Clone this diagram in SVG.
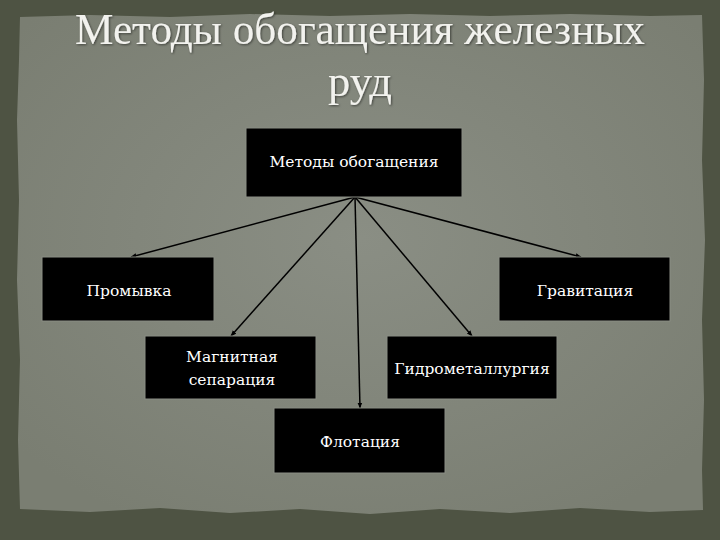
<svg xmlns="http://www.w3.org/2000/svg" width="720" height="540" viewBox="0 0 720 540">
<style>
.box{fill:#000;stroke:#8a8d84;stroke-width:1}
.lbl{font-family:"DejaVu Serif","Liberation Serif",serif;font-size:15.5px;fill:#fff;text-anchor:middle}
.title{font-family:"Liberation Serif","DejaVu Serif",serif;font-size:44px;fill:#f2f2ee;text-anchor:middle}
.conn line{stroke:#000;stroke-width:1.5;marker-end:url(#arr)}
</style>
<defs>
<marker id="arr" viewBox="0 0 10 10" refX="9" refY="5" markerWidth="6" markerHeight="6" orient="auto" markerUnits="userSpaceOnUse">
<path d="M0,1 L10,5 L0,9 z" fill="#000"/>
</marker>
<filter id="sh"><feDropShadow dx="1" dy="1" stdDeviation="1" flood-color="#000" flood-opacity="0.5"/></filter>
<radialGradient id="paper" cx="50%" cy="45%" r="65%">
<stop offset="0" stop-color="#8a8e84"/>
<stop offset="1" stop-color="#7a7e72"/>
</radialGradient>
</defs>
<rect width="720" height="540" fill="#4e5343"/>
<path d="M20,17 L90,15 L170,17 L250,14 L330,16 L410,14 L490,16 L570,14 L650,16 L702,15 L704,80 L702,160 L705,240 L702,320 L704,400 L702,470 L703,510 L650,512 L580,508 L510,513 L440,509 L370,514 L300,509 L230,513 L160,508 L90,512 L20,509 L18,440 L20,360 L17,280 L19,200 L17,120 L19,60 Z" fill="url(#paper)"/>
<g id="title" filter="url(#sh)">
<text class="title" x="360" y="44" textLength="570" lengthAdjust="spacingAndGlyphs">Методы обогащения железных</text>
<text class="title" x="360" y="96" textLength="64" lengthAdjust="spacingAndGlyphs">руд</text>
</g>
<g class="conn" id="connectors">
<line x1="355" y1="197" x2="131" y2="257"/>
<line x1="355" y1="197" x2="581" y2="257"/>
<line x1="355" y1="197" x2="231" y2="336"/>
<line x1="355" y1="197" x2="472" y2="336"/>
<line x1="355" y1="197" x2="360" y2="408"/>
</g>
<g id="n-root"><rect class="box" x="246" y="128" width="216" height="69"/><text class="lbl" x="354" y="167">Методы обогащения</text></g>
<g id="n-promyvka"><rect class="box" x="42" y="257" width="172" height="64"/><text class="lbl" x="129" y="296">Промывка</text></g>
<g id="n-gravitacia"><rect class="box" x="499" y="257" width="171" height="64"/><text class="lbl" x="585" y="296">Гравитация</text></g>
<g id="n-magnit"><rect class="box" x="145" y="336" width="171" height="63"/><text class="lbl" x="232" y="362">Магнитная</text><text class="lbl" x="232" y="385">сепарация</text></g>
<g id="n-gidro"><rect class="box" x="387" y="336" width="170" height="63"/><text class="lbl" x="472" y="374">Гидрометаллургия</text></g>
<g id="n-flot"><rect class="box" x="274" y="408" width="171" height="65"/><text class="lbl" x="360" y="447">Флотация</text></g>
</svg>
